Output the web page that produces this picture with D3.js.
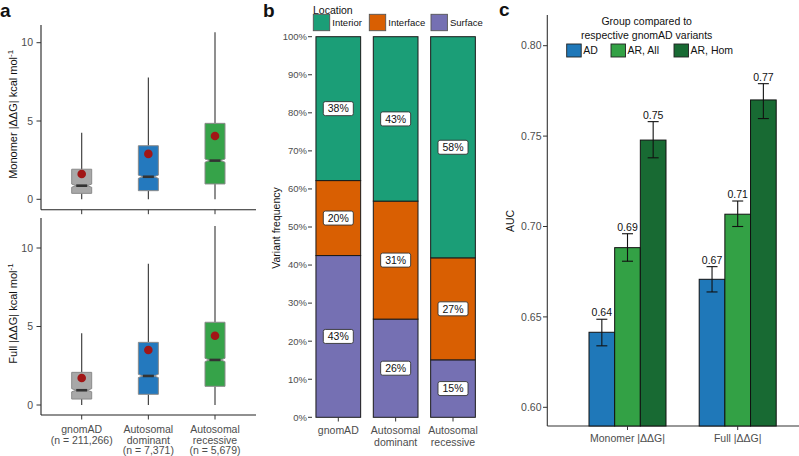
<!DOCTYPE html>
<html><head><meta charset="utf-8">
<script src="https://cdn.jsdelivr.net/npm/d3@7"></script>
<style>body{margin:0;background:#fff}svg{display:block;font-family:"Liberation Sans",Arial,sans-serif}</style>
</head><body><svg id="c" width="799" height="456"></svg>
<script>
// ---------- DATA ----------
const groups = ["gnomAD", "Autosomal dominant", "Autosomal recessive"];
const groupLabels = [["gnomAD","(n = 211,266)"],["Autosomal","dominant","(n = 7,371)"],["Autosomal","recessive","(n = 5,679)"]];
const boxColors = ["#a8a8a8", "#2479be", "#36a349"];
// [min, q1, median, q3, max, mean]
const monomerStats = [[0,0.38,0.87,1.92,4.25,1.62],[0,0.55,1.44,3.42,7.77,2.9],[0,0.98,2.47,4.85,10.67,4.04]];
const fullStats = [[0,0.38,0.94,2.08,4.57,1.72],[0,0.68,1.85,3.99,9.0,3.5],[0,1.19,2.87,5.27,11.4,4.41]];
const boxTicks = [0,5,10];

const locations = ["Surface","Interface","Interior"];
const locColors = {Interior:"#1b9e77", Interface:"#d95f02", Surface:"#7570b3"};
const locGroups = [["gnomAD"],["Autosomal","dominant"],["Autosomal","recessive"]];
const surfacePct = [42.5, 25.8, 15.1];
const interfacePct = [19.7, 31.0, 26.8];
const interiorPct = [37.8, 43.2, 58.1];
const pctTicks = [0,10,20,30,40,50,60,70,80,90,100];

const aucMetrics = ["Monomer |ΔΔG|", "Full |ΔΔG|"];
const aucSeries = ["AD", "AR, All", "AR, Hom"];
const aucColors = ["#1f78b9", "#33a145", "#186a33"];
const aucValues = [[0.6415,0.6883,0.7478],[0.6708,0.7068,0.7700]];
const aucLow = [[0.634,0.6808,0.738],[0.6638,0.700,0.7597]];
const aucHigh = [[0.6487,0.696,0.758],[0.6778,0.7141,0.779]];
const aucTicks = [0.60,0.65,0.70,0.75,0.80];

// ---------- DRAW ----------
const svg = d3.select("#c");
const grey = "#4d4d4d";
const panel = (t,x,y)=>svg.append("text").attr("x",x).attr("y",y).attr("font-size",19).attr("font-weight","bold").attr("fill","#111").text(t);
panel("a",0,17); panel("b",263,17); panel("c",499,16);

// Panel a
const xa = d3.scalePoint().domain(groups).range([81.7,215]);
function boxPanel(stats, y, yTop, yBot, title, showLabels){
  const g = svg.append("g");
  g.append("line").attr("x1",41).attr("x2",41).attr("y1",yTop).attr("y2",yBot).attr("stroke","#222").attr("stroke-width",1.1);
  g.append("line").attr("x1",41).attr("x2",256).attr("y1",yBot).attr("y2",yBot).attr("stroke","#222").attr("stroke-width",1.1);
  boxTicks.forEach(t=>{
    g.append("line").attr("x1",36.5).attr("x2",41).attr("y1",y(t)).attr("y2",y(t)).attr("stroke","#333");
    g.append("text").attr("x",33).attr("y",y(t)).attr("dy","0.35em").attr("text-anchor","end").attr("font-size",10.5).attr("fill",grey).text(t);
  });
  groups.forEach((k,i)=>{
    const cx = xa(k);
    g.append("line").attr("x1",cx).attr("x2",cx).attr("y1",yBot).attr("y2",yBot+4.5).attr("stroke","#333");
  });
  groups.forEach((k,i)=>{
    const s = stats[i], cx = xa(k), hw = 10, nw = 5.5, nh = 1.6;
    g.append("line").attr("x1",cx).attr("x2",cx).attr("y1",y(s[3])).attr("y2",y(s[4])).attr("stroke","#333").attr("stroke-width",1.1);
    g.append("line").attr("x1",cx).attr("x2",cx).attr("y1",y(s[1])).attr("y2",y(s[0])).attr("stroke","#333").attr("stroke-width",1.1);
    const ym = y(s[2]);
    const p = d3.path();
    p.moveTo(cx-hw,y(s[3])); p.lineTo(cx+hw,y(s[3])); p.lineTo(cx+hw,ym-nh); p.lineTo(cx+nw,ym); p.lineTo(cx+hw,ym+nh);
    p.lineTo(cx+hw,y(s[1])); p.lineTo(cx-hw,y(s[1])); p.lineTo(cx-hw,ym+nh); p.lineTo(cx-nw,ym); p.lineTo(cx-hw,ym-nh); p.closePath();
    g.append("path").attr("d",p.toString()).attr("fill",boxColors[i]).attr("stroke","#8a8a8a").attr("stroke-width",1);
    g.append("line").attr("x1",cx-nw).attr("x2",cx+nw).attr("y1",ym).attr("y2",ym).attr("stroke","#333").attr("stroke-width",2.6);
    g.append("circle").attr("cx",cx).attr("cy",y(s[5])).attr("r",4.3).attr("fill","#a11616");
  });
  const tc = (yTop+yBot)/2 - 3;
  const tt = g.append("text").attr("transform",`translate(17,${tc}) rotate(-90)`).attr("text-anchor","middle").attr("font-size",11).attr("fill","#111");
  tt.append("tspan").text(title);
  tt.append("tspan").attr("dy",-4).attr("font-size",8).text("-1");
  if(showLabels){
    groupLabels.forEach((ls,i)=>{
      const t = g.append("text").attr("text-anchor","middle").attr("font-size",10.5).attr("fill",grey);
      ls.forEach((l,j)=>t.append("tspan").attr("x",xa(groups[i])).attr("y",yBot+18+j*10.5).text(l));
    });
  }
}
boxPanel(monomerStats, d3.scaleLinear().domain([0,10]).range([199.3,42.7]), 25, 209.7, "Monomer |ΔΔG| kcal mol", false);
boxPanel(fullStats, d3.scaleLinear().domain([0,10]).range([405,248]), 218, 415, "Full |ΔΔG| kcal mol", true);

// Panel b
const xb = d3.scalePoint().domain(groups).range([338.3,453]);
const yb = d3.scaleLinear().domain([0,100]).range([417.3,36.7]);
const bw = 44.7;
const gb = svg.append("g");
pctTicks.forEach(t=>{
  gb.append("line").attr("x1",308).attr("x2",312).attr("y1",yb(t)).attr("y2",yb(t)).attr("stroke","#333");
  gb.append("text").attr("x",307).attr("y",yb(t)).attr("dy","0.35em").attr("text-anchor","end").attr("font-size",9.5).attr("fill",grey).text(t+"%");
});
const pctByLoc = {Surface:surfacePct, Interface:interfacePct, Interior:interiorPct};
groups.forEach((k,i)=>{
  let acc = 0;
  const cx = xb(k);
  locations.forEach(loc=>{
    const v = pctByLoc[loc][i];
    const y0 = yb(acc), y1 = yb(acc+v);
    gb.append("rect").attr("x",cx-bw/2).attr("y",y1).attr("width",bw).attr("height",y0-y1).attr("fill",locColors[loc]).attr("stroke","#1a1a1a").attr("stroke-width",1);
    acc += v;
  });
  acc = 0;
  locations.forEach(loc=>{
    const v = pctByLoc[loc][i];
    const cy = yb(acc+v/2);
    gb.append("rect").attr("x",cx-15).attr("y",cy-7).attr("width",30).attr("height",14).attr("rx",2).attr("fill","#fff").attr("stroke","#333").attr("stroke-width",0.9);
    gb.append("text").attr("x",cx).attr("y",cy).attr("dy","0.36em").attr("text-anchor","middle").attr("font-size",10.5).attr("fill","#111").text(Math.round(v)+"%");
    acc += v;
  });
  gb.append("line").attr("x1",cx).attr("x2",cx).attr("y1",417.3).attr("y2",421.5).attr("stroke","#333");
  const t = gb.append("text").attr("text-anchor","middle").attr("font-size",10.5).attr("fill",grey);
  locGroups[i].forEach((l,j)=>t.append("tspan").attr("x",cx).attr("y",434+j*12).text(l));
});
gb.append("text").attr("transform","translate(280,228) rotate(-90)").attr("text-anchor","middle").attr("font-size",10.5).attr("fill","#111").text("Variant frequency");
// legend b
gb.append("text").attr("x",313).attr("y",10).attr("dy","0.35em").attr("font-size",10.5).attr("fill","#111").text("Location");
const legB = [["Interior",313.3],["Interface",369.3],["Surface",431]];
legB.forEach(([n,x])=>{
  gb.append("rect").attr("x",x).attr("y",14.3).attr("width",16.4).attr("height",16.4).attr("fill",locColors[n]).attr("stroke","#555").attr("stroke-width",0.9);
  gb.append("text").attr("x",x+19).attr("y",22.6).attr("dy","0.35em").attr("font-size",9.5).attr("fill","#111").text(n);
});

// Panel c
const x0 = d3.scalePoint().domain(aucMetrics).range([627.5,737.7]);
const x1 = d3.scaleBand().domain(aucSeries).range([-38.5,38.5]);
const yc = d3.scaleLinear().domain([0.6,0.8]).range([407.3,45.7]);
const gc = svg.append("g");
gc.append("line").attr("x1",547.3).attr("x2",547.3).attr("y1",15).attr("y2",426).attr("stroke","#333").attr("stroke-width",1.1);
gc.append("line").attr("x1",547.3).attr("x2",799).attr("y1",426).attr("y2",426).attr("stroke","#333").attr("stroke-width",1.1);
aucTicks.forEach(t=>{
  gc.append("line").attr("x1",543).attr("x2",547.3).attr("y1",yc(t)).attr("y2",yc(t)).attr("stroke","#333");
  gc.append("text").attr("x",541.5).attr("y",yc(t)).attr("dy","0.35em").attr("text-anchor","end").attr("font-size",10.5).attr("fill",grey).text(t.toFixed(2));
});
aucMetrics.forEach((m,i)=>{
  aucSeries.forEach((s,j)=>{
    const x = x0(m)+x1(s), w = x1.bandwidth(), cx = x+w/2;
    gc.append("rect").attr("x",x).attr("y",yc(aucValues[i][j])).attr("width",w).attr("height",426-yc(aucValues[i][j])).attr("fill",aucColors[j]).attr("stroke","#111").attr("stroke-width",1);
    const yl = yc(aucLow[i][j]), yh = yc(aucHigh[i][j]);
    gc.append("line").attr("x1",cx).attr("x2",cx).attr("y1",yl).attr("y2",yh).attr("stroke","#111").attr("stroke-width",1.1);
    [yl,yh].forEach(yy=>gc.append("line").attr("x1",cx-5.5).attr("x2",cx+5.5).attr("y1",yy).attr("y2",yy).attr("stroke","#111").attr("stroke-width",1.1));
    gc.append("text").attr("x",cx).attr("y",yh-3).attr("text-anchor","middle").attr("font-size",10.5).attr("fill","#111").text(aucValues[i][j].toFixed(2));
  });
  gc.append("line").attr("x1",x0(m)).attr("x2",x0(m)).attr("y1",426).attr("y2",430).attr("stroke","#333");
  gc.append("text").attr("x",x0(m)).attr("y",442).attr("text-anchor","middle").attr("font-size",10.5).attr("fill",grey).text(m);
});
gc.append("text").attr("transform","translate(514,221) rotate(-90)").attr("text-anchor","middle").attr("font-size",10.5).attr("fill","#111").text("AUC");
gc.append("text").attr("x",646.7).attr("y",25).attr("text-anchor","middle").attr("font-size",10.5).attr("fill","#111").text("Group compared to");
gc.append("text").attr("x",646.7).attr("y",38.5).attr("text-anchor","middle").attr("font-size",10.5).attr("fill","#111").text("respective gnomAD variants");
const legC = [566.7, 611, 674];
aucSeries.forEach((s,j)=>{
  gc.append("rect").attr("x",legC[j]).attr("y",44).attr("width",14.5).attr("height",13).attr("fill",aucColors[j]).attr("stroke","#222").attr("stroke-width",0.9);
  gc.append("text").attr("x",legC[j]+16.5).attr("y",50.7).attr("dy","0.36em").attr("font-size",10.5).attr("fill","#111").text(s);
});
</script></body></html>
